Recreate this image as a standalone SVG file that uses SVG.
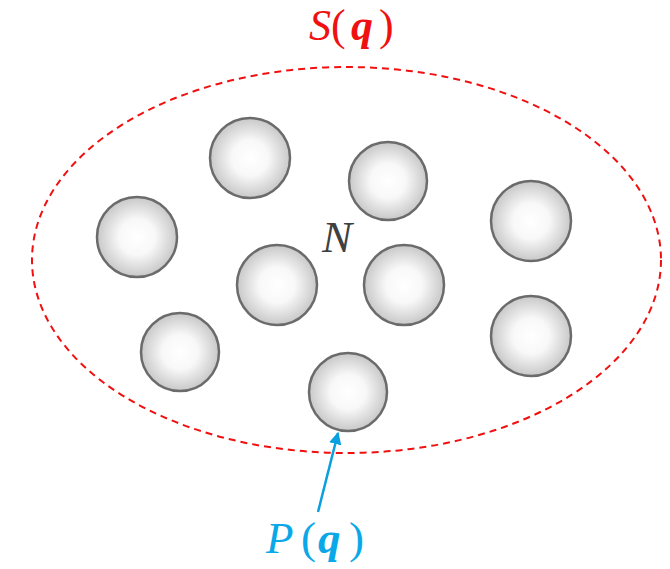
<svg xmlns="http://www.w3.org/2000/svg" width="670" height="569" viewBox="0 0 670 569">
<defs>
<radialGradient id="g" cx="50%" cy="50%" r="50%">
<stop offset="0" stop-color="#ffffff"/>
<stop offset="0.45" stop-color="#f8f8f8"/>
<stop offset="1" stop-color="#c8c8c8"/>
</radialGradient>
<marker id="ah" viewBox="0 0 10 10" refX="9" refY="5" markerWidth="5" markerHeight="5" orient="auto">
<path d="M0,0 L10,5 L0,10 z" fill="#0aa0e0"/>
</marker>
<style>
.p{fill:url(#g);stroke:#6b6b6b;stroke-width:2.5}
.t{font-family:"Liberation Serif","DejaVu Serif",serif;font-style:italic}
.u{font-style:normal}
.b{font-weight:bold}
</style>
</defs>
<rect width="670" height="569" fill="#fff"/>
<g id="set">
<ellipse cx="346.5" cy="260" rx="314.5" ry="193" fill="none" stroke="#f01010" stroke-width="2" stroke-dasharray="7,5"/>
</g>
<g id="particles">
<circle id="c1" class="p" cx="250" cy="158" r="40"/>
<circle id="c2" class="p" cx="388" cy="181" r="39"/>
<circle id="c3" class="p" cx="137" cy="237" r="40"/>
<circle id="c4" class="p" cx="531" cy="221" r="40"/>
<circle id="c5" class="p" cx="277" cy="285" r="40"/>
<circle id="c6" class="p" cx="404" cy="285" r="40"/>
<circle id="c7" class="p" cx="180" cy="352" r="39"/>
<circle id="c8" class="p" cx="531" cy="336" r="40"/>
<circle id="c9" class="p" cx="348" cy="392" r="39"/>
</g>
<g id="connectors">
<line x1="318" y1="512" x2="338" y2="433" stroke="#0aa0e0" stroke-width="2.5" marker-end="url(#ah)"/>
</g>
<g id="labels">
<text class="t" y="40" font-size="44" fill="#f01010"><tspan x="309">S</tspan><tspan class="u" x="331">(</tspan><tspan class="b" x="351">q</tspan><tspan class="u" x="379">)</tspan></text>
<text class="t" y="553" font-size="45" fill="#0aa8e8"><tspan x="266">P</tspan><tspan class="u" x="301">(</tspan><tspan class="b" x="318">q</tspan><tspan class="u" x="349">)</tspan></text>
<text class="t" x="337" y="252" text-anchor="middle" font-size="45" fill="#404040">N</text>
</g>
</svg>
